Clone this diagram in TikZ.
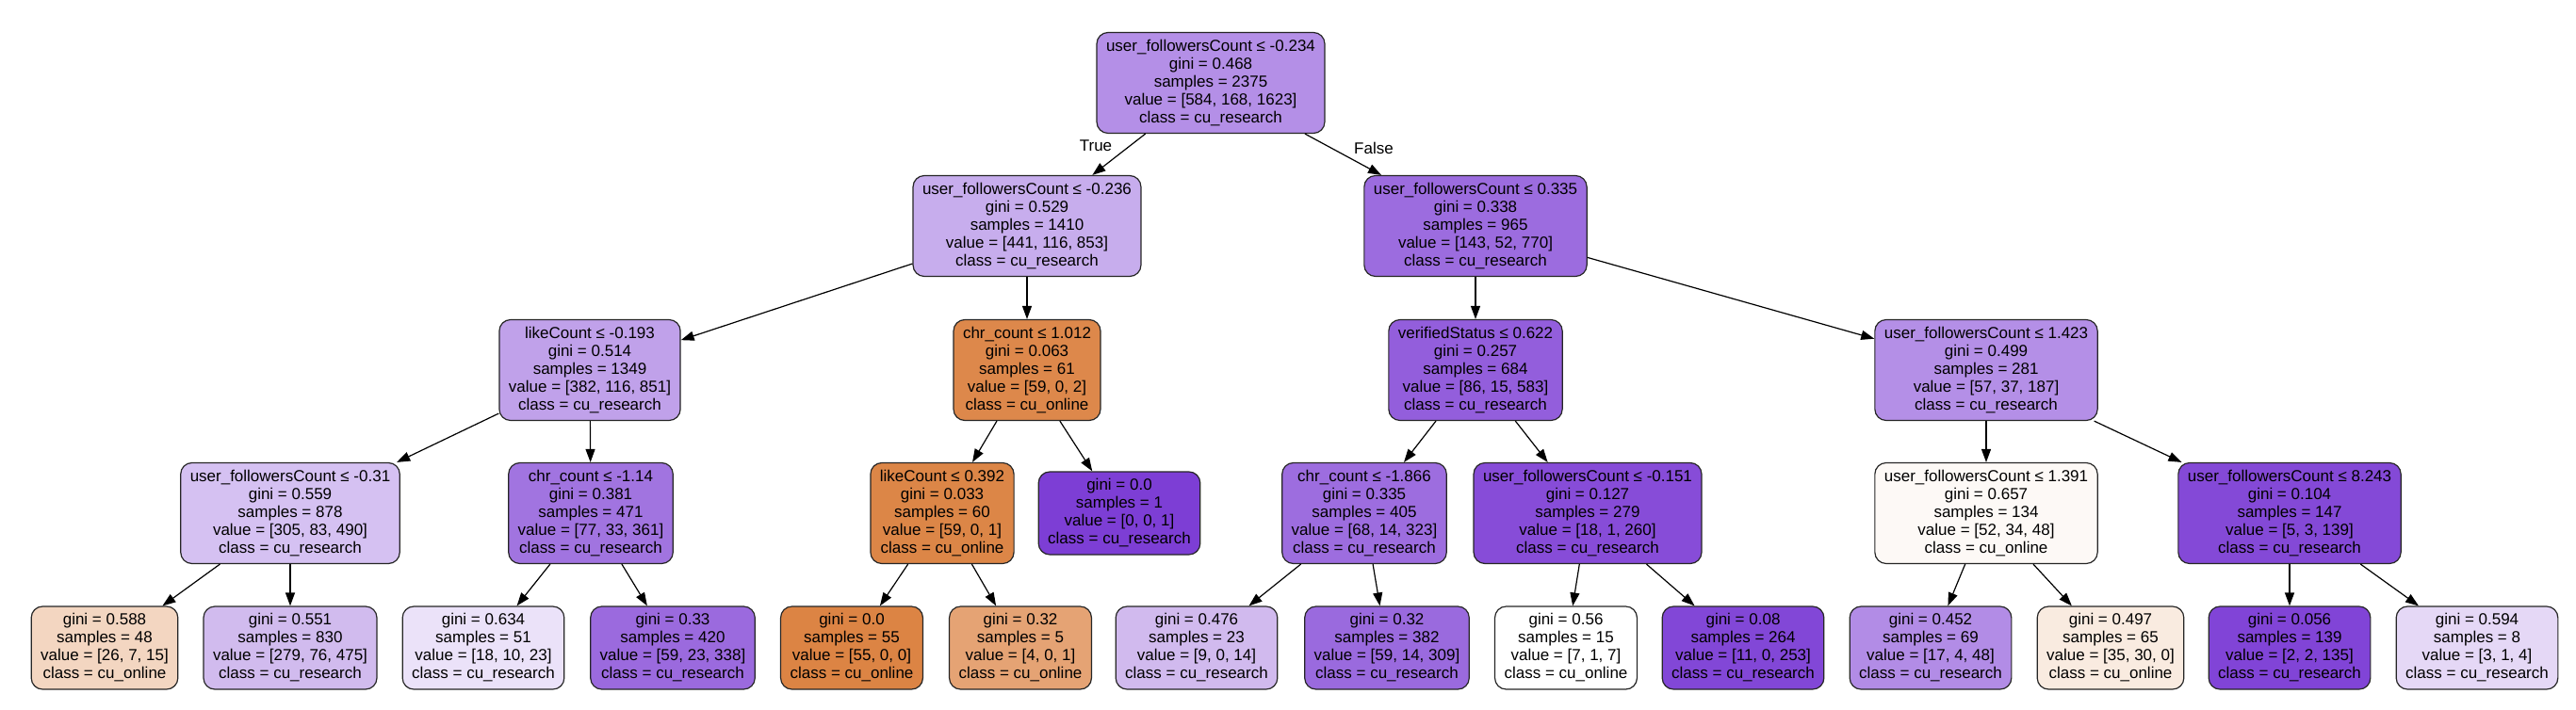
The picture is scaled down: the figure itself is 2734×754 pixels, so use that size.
\documentclass[tikz,border=0pt]{standalone}
\usepackage{fontspec}
\setmainfont{Liberation Sans}
\usetikzlibrary{arrows.meta}
% node fills
\definecolor{fRoot}{HTML}{B48FE7}
\definecolor{fA}{HTML}{C7ADED}
\definecolor{fB}{HTML}{9C6CDF}
\definecolor{fC}{HTML}{C0A1EA}
\definecolor{fD}{HTML}{DD884B}
\definecolor{fE}{HTML}{935EDC}
\definecolor{fF}{HTML}{B48FE7}
\definecolor{fG}{HTML}{D5C1F2}
\definecolor{fH}{HTML}{A174E0}
\definecolor{fI}{HTML}{DC8647}
\definecolor{fJ}{HTML}{7D3ED5}
\definecolor{fK}{HTML}{9D6DDF}
\definecolor{fL}{HTML}{874CD8}
\definecolor{fM}{HTML}{FDF9F6}
\definecolor{fN}{HTML}{8449D7}
\definecolor{fO}{HTML}{F3D6C1}
\definecolor{fP}{HTML}{D1BBEE}
\definecolor{fQ}{HTML}{EBE2F9}
\definecolor{fR}{HTML}{9B6ADE}
\definecolor{fS}{HTML}{DC8444}
\definecolor{fT}{HTML}{E5A374}
\definecolor{fU}{HTML}{D1BAEE}
\definecolor{fV}{HTML}{9A6ADE}
\definecolor{fW}{HTML}{FFFFFF}
\definecolor{fX}{HTML}{8247D7}
\definecolor{fY}{HTML}{B28CE6}
\definecolor{fZ}{HTML}{F9EBE0}
\definecolor{fAA}{HTML}{8144D7}
\definecolor{fAB}{HTML}{E5D8F6}
\begin{document}
\begin{tikzpicture}[x=1pt, y=-1pt, font=\fontsize{17}{19}\selectfont,
	line join=round, >={Triangle[length=14pt,width=10pt]},
	split/.style={draw=black!85, line width=1.2pt, rounded corners=12pt, align=center,
		inner xsep=10pt, inner ysep=0pt, minimum height=107pt},
	leaf/.style={split, minimum height=88pt}]
	\path[fill=white, use as bounding box] (0,0) rectangle (2734,754);
	% level 0 and 1
	\node[split, fill=fRoot] (n0) at (1285,88) {user\_followersCount ≤ -0.234\\gini = 0.468\\samples = 2375\\value = [584, 168, 1623]\\class = cu\_research};
	\node[split, fill=fA] (n1) at (1090,240) {user\_followersCount ≤ -0.236\\gini = 0.529\\samples = 1410\\value = [441, 116, 853]\\class = cu\_research};
	\node[split, fill=fB] (n2) at (1566,240) {user\_followersCount ≤ 0.335\\gini = 0.338\\samples = 965\\value = [143, 52, 770]\\class = cu\_research};
	\node (lblTrue) at (1163,155) {True};
	\node (lblFalse) at (1458,157) {False};
	% level 2
	\node[split, fill=fC] (n3) at (626,393) {likeCount ≤ -0.193\\gini = 0.514\\samples = 1349\\value = [382, 116, 851]\\class = cu\_research};
	\node[split, fill=fD] (n4) at (1090,393) {chr\_count ≤ 1.012\\gini = 0.063\\samples = 61\\value = [59, 0, 2]\\class = cu\_online};
	\node[split, fill=fE] (n5) at (1566,393) {verifiedStatus ≤ 0.622\\gini = 0.257\\samples = 684\\value = [86, 15, 583]\\class = cu\_research};
	\node[split, fill=fF] (n6) at (2108,393) {user\_followersCount ≤ 1.423\\gini = 0.499\\samples = 281\\value = [57, 37, 187]\\class = cu\_research};
	% level 3
	\node[split, fill=fG] (n7) at (308,545) {user\_followersCount ≤ -0.31\\gini = 0.559\\samples = 878\\value = [305, 83, 490]\\class = cu\_research};
	\node[split, fill=fH] (n8) at (627,545) {chr\_count ≤ -1.14\\gini = 0.381\\samples = 471\\value = [77, 33, 361]\\class = cu\_research};
	\node[split, fill=fI] (n9) at (1000,545) {likeCount ≤ 0.392\\gini = 0.033\\samples = 60\\value = [59, 0, 1]\\class = cu\_online};
	\node[leaf, fill=fJ] (n10) at (1188,545) {gini = 0.0\\samples = 1\\value = [0, 0, 1]\\class = cu\_research};
	\node[split, fill=fK] (n11) at (1448,545) {chr\_count ≤ -1.866\\gini = 0.335\\samples = 405\\value = [68, 14, 323]\\class = cu\_research};
	\node[split, fill=fL] (n12) at (1685,545) {user\_followersCount ≤ -0.151\\gini = 0.127\\samples = 279\\value = [18, 1, 260]\\class = cu\_research};
	\node[split, fill=fM] (n13) at (2108,545) {user\_followersCount ≤ 1.391\\gini = 0.657\\samples = 134\\value = [52, 34, 48]\\class = cu\_online};
	\node[split, fill=fN] (n14) at (2430,545) {user\_followersCount ≤ 8.243\\gini = 0.104\\samples = 147\\value = [5, 3, 139]\\class = cu\_research};
	% level 4 (leaves)
	\node[leaf, fill=fO] (l1) at (111,688) {gini = 0.588\\samples = 48\\value = [26, 7, 15]\\class = cu\_online};
	\node[leaf, fill=fP] (l2) at (308,688) {gini = 0.551\\samples = 830\\value = [279, 76, 475]\\class = cu\_research};
	\node[leaf, fill=fQ] (l3) at (513,688) {gini = 0.634\\samples = 51\\value = [18, 10, 23]\\class = cu\_research};
	\node[leaf, fill=fR] (l4) at (714,688) {gini = 0.33\\samples = 420\\value = [59, 23, 338]\\class = cu\_research};
	\node[leaf, fill=fS] (l5) at (904,688) {gini = 0.0\\samples = 55\\value = [55, 0, 0]\\class = cu\_online};
	\node[leaf, fill=fT] (l6) at (1083,688) {gini = 0.32\\samples = 5\\value = [4, 0, 1]\\class = cu\_online};
	\node[leaf, fill=fU] (l7) at (1270,688) {gini = 0.476\\samples = 23\\value = [9, 0, 14]\\class = cu\_research};
	\node[leaf, fill=fV] (l8) at (1472,688) {gini = 0.32\\samples = 382\\value = [59, 14, 309]\\class = cu\_research};
	\node[leaf, fill=fW] (l9) at (1662,688) {gini = 0.56\\samples = 15\\value = [7, 1, 7]\\class = cu\_online};
	\node[leaf, fill=fX] (l10) at (1850,688) {gini = 0.08\\samples = 264\\value = [11, 0, 253]\\class = cu\_research};
	\node[leaf, fill=fY] (l11) at (2049,688) {gini = 0.452\\samples = 69\\value = [17, 4, 48]\\class = cu\_research};
	\node[leaf, fill=fZ] (l12) at (2240,688) {gini = 0.497\\samples = 65\\value = [35, 30, 0]\\class = cu\_online};
	\node[leaf, fill=fAA] (l13) at (2430,688) {gini = 0.056\\samples = 139\\value = [2, 2, 135]\\class = cu\_research};
	\node[leaf, fill=fAB] (l14) at (2629,688) {gini = 0.594\\samples = 8\\value = [3, 1, 4]\\class = cu\_research};
	% edges
	\foreach \a/\b in {n0/n1,n0/n2,n1/n3,n1/n4,n2/n5,n2/n6,n3/n7,n3/n8,n4/n9,n4/n10,
		n5/n11,n5/n12,n6/n13,n6/n14,n7/l1,n7/l2,n8/l3,n8/l4,n9/l5,n9/l6,
		n11/l7,n11/l8,n12/l9,n12/l10,n13/l11,n13/l12,n14/l13,n14/l14}
	\draw[->, line width=1.2pt] (\a) -- (\b);
\end{tikzpicture}
\end{document}
